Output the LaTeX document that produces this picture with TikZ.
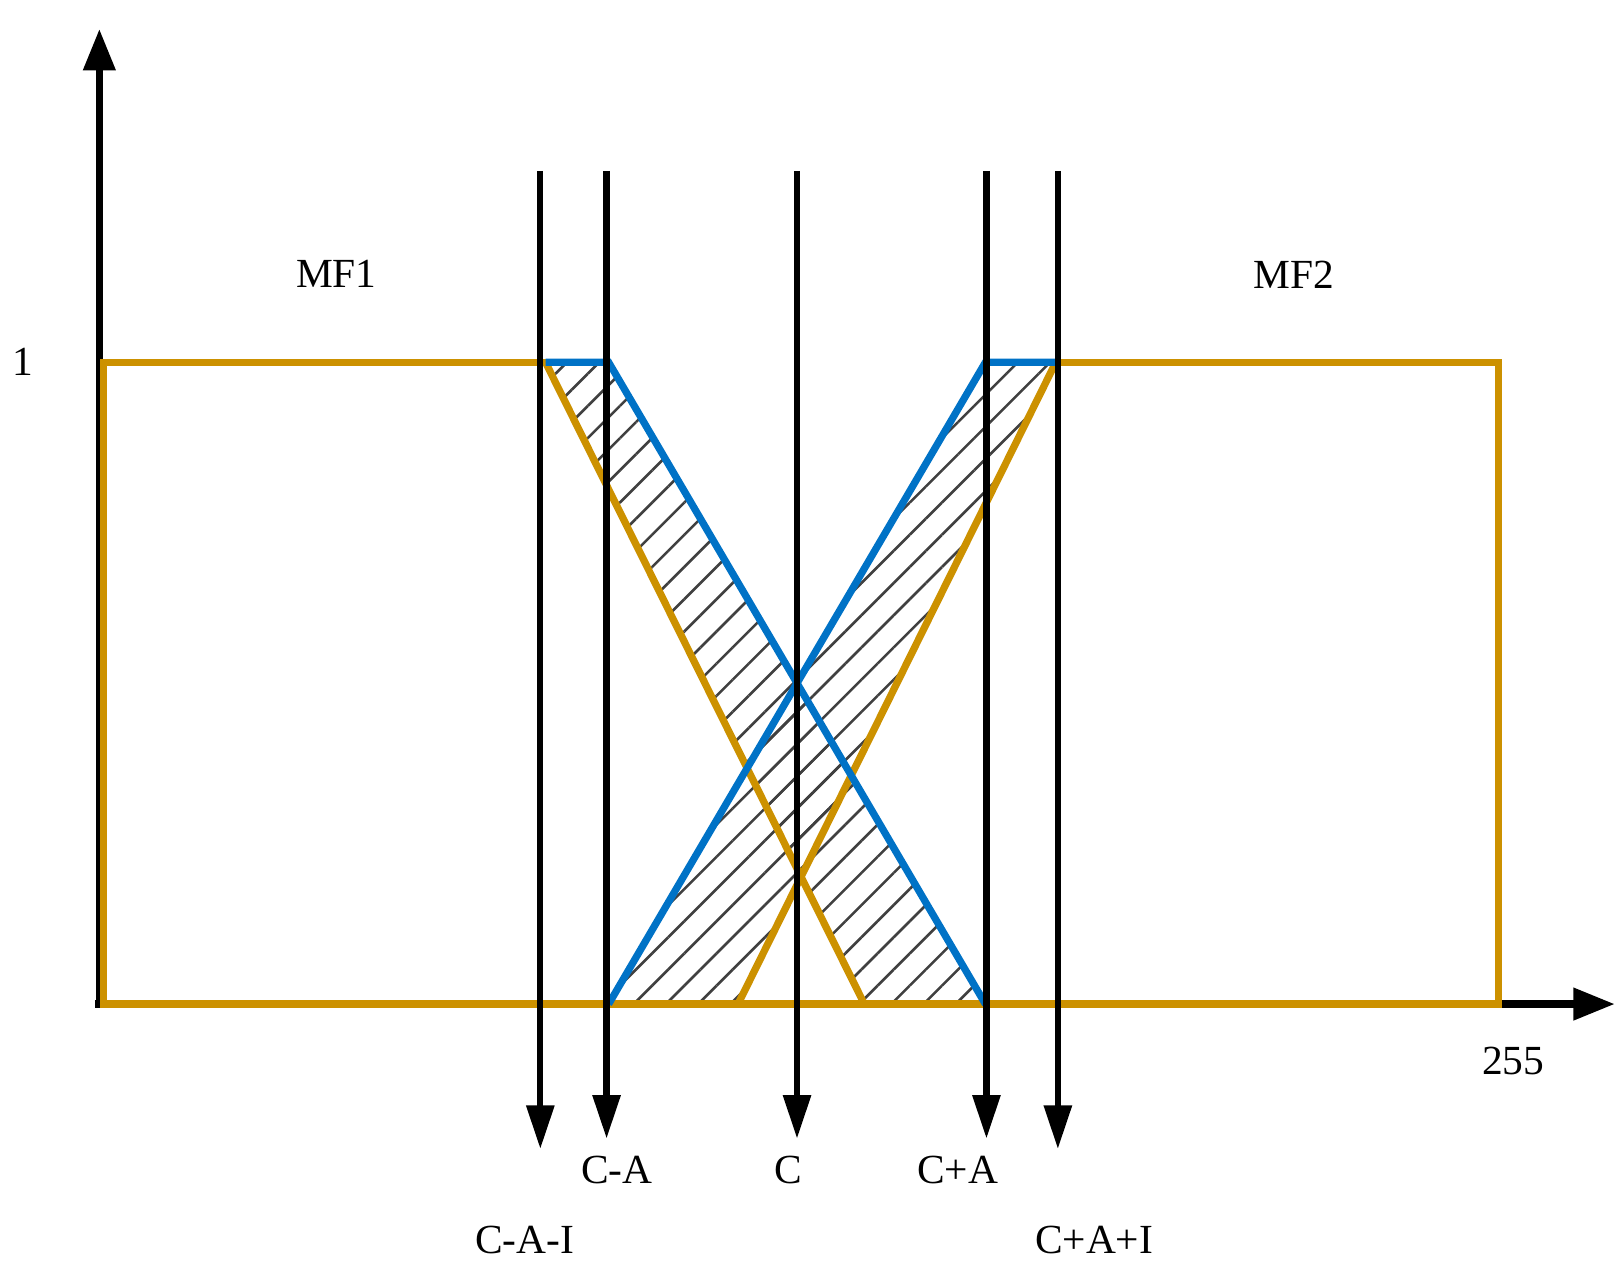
\documentclass[tikz,border=0pt]{standalone}
\usepackage{fontspec}
\setmainfont{Liberation Serif}
\usetikzlibrary{patterns.meta,arrows.meta}
\definecolor{org}{RGB}{204,145,0}
\definecolor{blu}{RGB}{0,114,198}
\begin{document}
\begin{tikzpicture}[x=1pt,y=-1pt,
  axisline/.style={line width=7pt,-{Triangle[length=40pt,width=30pt]}},
  vline/.style={line width=6pt,-{Triangle[length=42pt,width=26pt]}},
  mf/.style={draw=org,line width=7pt,line join=miter},
  bl/.style={draw=blu,line width=7pt},
  lbl/.style={font=\fontsize{40}{40}\selectfont,inner sep=0pt}]
\useasboundingbox (0,0) rectangle (1567,1240);
% hatch
\fill[pattern={Lines[angle=45,distance=22pt,line width=2.5pt]},pattern color=black!75]
  (527,350)--(588,350)--(952,970)--(835,970)--cycle;
\fill[pattern={Lines[angle=45,distance=22pt,line width=2.5pt]},pattern color=black!75]
  (952,350)--(1020,350)--(713,970)--(588,970)--cycle;
% axes
\coordinate (o) at (96,970);
\coordinate (ytip) at (96,28);
\coordinate (xtip) at (1560,970);
\draw[axisline] (96,974) -- (ytip);
\draw[axisline] (92,970) -- (xtip);
% orange MFs
\draw[mf] (527,350) -- (100,350) -- (100,970) -- (1448,970) -- (1448,350) -- (1020,350);
\draw[mf] (527,350) -- (835,970);
\draw[mf] (1020,350) -- (713,970);
% blue
\draw[bl] (527,350) -- (588,350) -- (952,970);
\draw[bl] (1020,350) -- (952,350) -- (588,970);
% vertical arrows
\foreach \n/\x/\y in {a/522/1110,b/586/1100,c/770/1100,d/953/1100,e/1022/1110}{
  \coordinate (\n top) at (\x,165);
  \coordinate (\n bot) at (\x,\y);
  \draw[vline] (\n top) -- (\n bot);
}
% labels
\node[lbl] (mf1) at (325,265) {MF1};
\node[lbl] (mf2) at (1250,265) {MF2};
\node[lbl] (one) at (22,350) {1};
\node[lbl] (n255) at (1462,1025) {255};
\node[lbl] (cma) at (596,1130) {C-A};
\node[lbl] (cc) at (762,1130) {C};
\node[lbl] (cpa) at (925,1130) {C+A};
\node[lbl] (cmai) at (507,1198) {C-A-I};
\node[lbl] (cpai) at (1057,1198) {C+A+I};
\end{tikzpicture}
\end{document}
